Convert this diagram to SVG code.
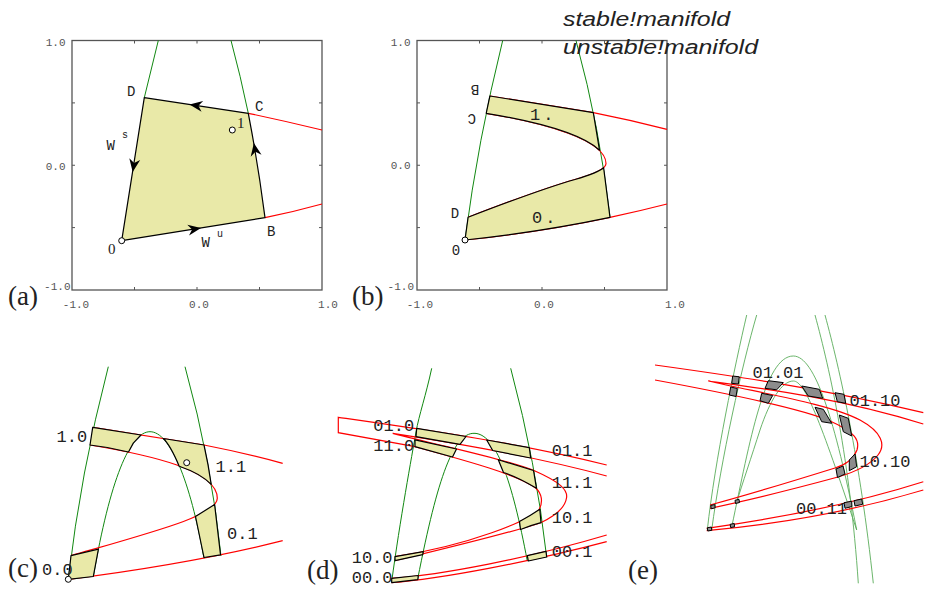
<svg xmlns="http://www.w3.org/2000/svg" xmlns:xlink="http://www.w3.org/1999/xlink" width="930" height="592" viewBox="0 0 930 592">
<style>
.fr{fill:none;stroke:#555;stroke-width:1.3}
.tk{stroke:#555;stroke-width:1;fill:none}
.tl{font-family:"Liberation Mono",monospace;font-size:11px;fill:#555}
.g{fill:none;stroke:#118811;stroke-width:1}
.ge{fill:none;stroke:#5aad5a;stroke-width:0.9}
.r{fill:none;stroke:#f00;stroke-width:1.2}
.y{fill:#e9e9a8;stroke:#000;stroke-width:1.2;stroke-linejoin:round}
.k{fill:none;stroke:#000;stroke-width:1.3}
.sq{fill:#8c8c8c;stroke:#000;stroke-width:1;stroke-linejoin:round}
.pt{fill:#fff;stroke:#000;stroke-width:1}
.lb{font-family:"Liberation Mono",monospace;font-size:14px;fill:#222}
.sup{font-family:"Liberation Mono",monospace;font-size:10px;fill:#222}
.lm{font-family:"Liberation Mono",monospace;font-size:17px;fill:#222}
.pl{font-family:"Liberation Serif",serif;font-size:27px;fill:#222}
.sn{font-family:"Liberation Serif",serif;font-size:15px;fill:#222}
.ti{font-family:"Liberation Sans",sans-serif;font-style:italic;font-size:20px;fill:#222}
</style>
<defs>
<path id="ah" d="M0,0 L-13,-5.5 L-9,0 L-13,5.5 Z" fill="#000"/>
</defs>

<g id="panel-a">
<rect class="fr" x="72" y="40.5" width="250" height="249.5"/>
<path class="tk" d="M72,102.9h3M72,165.25h3M72,227.6h3M322,102.9h-3M322,165.25h-3M322,227.6h-3M134.5,40.5v3M197,40.5v3M259.5,40.5v3M134.5,290v-3M197,290v-3M259.5,290v-3"/>
<text class="tl" x="65.5" y="46.3" text-anchor="end">1.0</text>
<text class="tl" x="65.5" y="169.6" text-anchor="end">0.0</text>
<text class="tl" x="70.5" y="290.3" text-anchor="end">-1.0</text>
<text class="tl" x="76" y="307.5" text-anchor="middle">-1.0</text>
<text class="tl" x="199" y="307.5" text-anchor="middle">0.0</text>
<text class="tl" x="328" y="307.5" text-anchor="middle">1.0</text>
<path class="g" d="M158.3,40.5 L144.3,97.7 M231,40.5 Q240.5,75.7 248.3,113.3"/>
<path class="r" d="M248.3,113.3 Q285,121 322,130 M265,217.7 Q293,212 322,204"/>
<path class="y" d="M121.7,240.7 L265,217.7 Q257.9,163 248.3,113.3 L144.3,97.7 Z"/>
<use xlink:href="#ah" transform="translate(189.5,104.5) rotate(188.5)"/>
<use xlink:href="#ah" transform="translate(132.7,172) rotate(99)"/>
<use xlink:href="#ah" transform="translate(253.9,143) rotate(260.2)"/>
<use xlink:href="#ah" transform="translate(201,228) rotate(-9.1)"/>
<circle class="pt" cx="121.7" cy="240.7" r="3"/>
<circle class="pt" cx="232.3" cy="130" r="3"/>
<text class="lb" x="127" y="96">D</text>
<text class="lb" x="255" y="111">C</text>
<text class="lb" x="267" y="236">B</text>
<text class="lb" x="106.5" y="149.5">W</text>
<text class="sup" x="122" y="138">s</text>
<text class="lb" x="201.5" y="247">W</text>
<text class="sup" x="217" y="237">u</text>
<text class="sn" x="108" y="254">0</text>
<text class="sn" x="237" y="128">1</text>
<text class="pl" x="8" y="305">(a)</text>
</g>

<g id="panel-b">
<rect class="fr" x="417" y="40.5" width="250" height="249.5"/>
<path class="tk" d="M417,102.9h3M417,165.25h3M417,227.6h3M667,102.9h-3M667,165.25h-3M667,227.6h-3M479.5,40.5v3M542,40.5v3M604.5,40.5v3M479.5,290v-3M542,290v-3M604.5,290v-3"/>
<text class="tl" x="410.5" y="45.5" text-anchor="end">1.0</text>
<text class="tl" x="410.5" y="169.3" text-anchor="end">0.0</text>
<text class="tl" x="414" y="289.8" text-anchor="end">-1.0</text>
<text class="tl" x="420" y="307.5" text-anchor="middle">-1.0</text>
<text class="tl" x="544" y="307.5" text-anchor="middle">0.0</text>
<text class="tl" x="675" y="307.5" text-anchor="middle">1.0</text>
<path class="g" d="M502.7,40.5 Q478,140.25 465,240 M576,40.5 Q600,128.65 610,217.3"/>
<path class="r" d="M489.9,96 L593.3,112.7 Q630,120 667,129.3 M465,240 Q540,232 610,217.3 Q640,211 667,204 M486.2,113.3 C545,123 606,140 606,163.5 C606,168 598,173 575,179.5 C545,188 500,205 468.1,217.3"/>
<path class="y" d="M489.9,96 L593.3,112.7 L599.5,150.2 C581.7,133.5 533.2,121.1 486.2,113.3 Z"/>
<path class="y" d="M465,240 L468.1,217.3 C500,205 545,188 575,179.5 C590,175 600,171 603.6,167.7 L610,217.3 Q540,232 465,240 Z"/>
<circle class="pt" cx="465" cy="240" r="3"/>
<text class="lb" text-anchor="middle" transform="translate(475,89.3) rotate(180)" y="4.6">B</text>
<text class="lb" text-anchor="middle" transform="translate(471.7,118.3) rotate(180)" y="4.6">C</text>
<text class="lb" x="455" y="218" text-anchor="middle">D</text>
<text class="lb" x="456" y="254.6" text-anchor="middle">0</text>
<text class="lm" x="530" y="120" letter-spacing="3">1.</text>
<text class="lm" x="532" y="222.7" letter-spacing="3">0.</text>
<text class="pl" x="352" y="305">(b)</text>
</g>

<g id="title">
<text class="ti" x="563" y="26" textLength="167" lengthAdjust="spacingAndGlyphs">stable!manifold</text>
<text class="ti" x="563" y="53.5" textLength="195" lengthAdjust="spacingAndGlyphs">unstable!manifold</text>
</g>

<g id="panel-c">
<path class="g" d="M108.3,366.7 Q80.6,473 68.3,579.3 M185,366.7 Q211.4,461.35 221,556 M93.3,576.7 C110,480 130,431.7 150,431.7 C170,431.7 190,480 204,558.3"/>
<path class="r" d="M92.7,427.3 L204,445 Q245,453 282.7,463.3 M90,445 C150,455 217.3,470 217.3,498.3 C217.3,515 160,530 71,555.7 M68.3,579.3 Q190,564 282.7,540.7"/>
<path class="y" d="M92.7,427.3 L141,435 L133.3,443.1 L128.5,452 Q109,447 90,445 Z"/>
<path class="y" d="M163.2,438.5 L204,445 Q208.5,465 211.2,484.4 Q200.8,473.5 179.2,466.2 Q170.2,444.85 163.2,438.5 Z"/>
<path class="y" d="M195.5,516.5 L214.6,504.5 L220.5,554.8 L204,557.5 Z"/>
<path class="y" d="M71,555.7 L98.4,549.1 L93.3,576.5 Q80,578 68.3,579.3 Z"/>
<circle class="pt" cx="186.7" cy="462.7" r="3"/>
<circle class="pt" cx="68.3" cy="579.3" r="3"/>
<text class="lm" x="56.5" y="441.7">1.0</text>
<text class="lm" x="215.5" y="471.7">1.1</text>
<text class="lm" x="227" y="539.3">0.1</text>
<text class="lm" x="42" y="575">0.0</text>
<text class="pl" x="8" y="577">(c)</text>
</g>

<g id="panel-d">
<path class="g" d="M431.7,368.3 C426,395 419,415 416,432 C412,455 400,520 391.7,581.7 M510.7,368.3 Q536.1,462.8 546.7,557.3 M417.7,579 C438,475 454,433.3 474,433.3 C496,433.3 512,480 527.3,561"/>
<path class="r" d="M606.7,465 C520,443 420,429 338.3,417.3 L338.3,432.7 L415,446.7 C460,459 520,475 536,488.3 C542,494 543,502 539.3,509.3 C528,521 470,545 395,556.7"/>
<path class="r" d="M606.7,476 C530,455 430,439 392.7,433.3 C445,447 510,460 535,471 C560,482 568,490 566.5,498 C565,508 555,516 540.7,522.7 C510,533 460,545 395,560.7"/>
<path class="r" d="M391.7,578.3 C440,575 530,558 606.7,535 M391.7,582.7 C440,579 530,562 606.7,541.7"/>
<path class="y" d="M416.7,428.3 L466,436.5 L460,444.3 L416,436.6 Z"/>
<path class="y" d="M415,439.8 L456.5,449 L452.5,457 L415,446.7 Z"/>
<path class="y" d="M486.7,440 L529.3,447.7 L530.7,458 L492.7,450.5 Z"/>
<path class="y" d="M498.3,459.7 L533.5,470.5 L536.5,488.3 Q518,477 503.5,472.5 Z"/>
<path class="y" d="M539.8,509.3 Q530,516 519.5,521.5 L520.5,529.5 Q532,525 541,522.7 Z"/>
<path class="y" d="M527.3,555.7 L546,551.4 L546.7,557 L528.3,561 Z"/>
<path class="y" d="M395,556.7 L423.3,551.7 L422.7,554.6 L395,560.7 Z"/>
<path class="y" d="M391.7,578.3 L418.3,575.5 L417.8,579.6 L391.7,582.7 Z"/>
<text class="lm" x="373.3" y="430.7">01.0</text>
<text class="lm" x="373.3" y="450.7">11.0</text>
<text class="lm" x="551.7" y="456">01.1</text>
<text class="lm" x="551.7" y="488.3">11.1</text>
<text class="lm" x="551.7" y="522.7">10.1</text>
<text class="lm" x="551.7" y="556.7">00.1</text>
<text class="lm" x="351.7" y="562.5">10.0</text>
<text class="lm" x="351.7" y="583">00.0</text>
<text class="pl" x="307" y="579">(d)</text>
</g>

<g id="panel-e">
<path class="ge" d="M746.7,315 C735,365 715,460 707.3,530 M756.7,315 C742,365 721,460 711.7,530"/>
<path class="ge" d="M731.7,527 C750,440 765,356 793.3,356 C815,356 835,420 856.7,530"/>
<path class="ge" d="M736.7,502 C742,485 752,455 760,430 C770,400 782,381 793.3,381 C805,381 820,420 856.7,530"/>
<path class="ge" d="M815,315 C830,370 850,460 858.3,583.3 M825,315 C840,370 860,460 873.3,583.3"/>
<path class="r" d="M655,365 C720,374 820,388 923.3,412.7"/>
<path class="r" d="M923.3,424 C840,398 760,388 708.3,381 C760,393 830,404 860,420 C882,432 886,445 878,455 C870,465 855,472 838,477 C790,490 740,502 710,508.3"/>
<path class="r" d="M655,380 C720,392 800,408 830,421 C855,432 860,440 857,450 C853,460 845,465 835,468 C790,482 740,497 710,505"/>
<path class="r" d="M706.7,528.3 C780,518 850,505 923.3,481.7 M706.7,530.7 C780,524 850,512 923.3,490"/>
<text class="lm" x="752.5" y="378.3">01.01</text>
<text class="lm" x="849.5" y="406">01.10</text>
<text class="lm" x="859.5" y="467.3">10.10</text>
<text class="lm" x="796" y="514">00.11</text>
<path class="sq" d="M732.7,376 L739.3,376.8 L738.3,384 L731.7,383.3 Z"/>
<path class="sq" d="M730.7,387 L737.3,388.5 L736,396.5 L729.3,395 Z"/>
<path class="sq" d="M768.3,380.7 L783.3,382.6 L776.7,389.8 L765,388.3 Z"/>
<path class="sq" d="M761.7,393.3 L772.7,395.5 L768.3,403.3 L760,400.7 Z"/>
<path class="sq" d="M801.7,386 L819.3,389.3 L822.7,398.3 L808.3,396 Z"/>
<path class="sq" d="M835,392.7 L844,394.3 L845.7,403.3 L837.3,401.7 Z"/>
<path class="sq" d="M815,407.3 L823.3,409.3 L831.7,423.3 L821.7,421.7 Z"/>
<path class="sq" d="M839.3,415 L848.3,418.3 L851.7,436 L843.3,431.7 Z"/>
<path class="sq" d="M836,469 L843,466 L845,474 L837.5,477.5 Z"/>
<path class="sq" d="M849.3,460 L855,454 L856.7,466.7 L849.3,470.7 Z"/>
<path class="sq" d="M844,502.7 L851.7,501.2 L851.9,506.5 L845,508.3 Z"/>
<path class="sq" d="M854,500.7 L861.7,499 L862.7,504.3 L855,506 Z"/>
<path class="sq" d="M710.7,505.5 L714.7,504.5 L715.2,507.8 L711.2,508.8 Z"/>
<path class="sq" d="M735,500.3 L739,499.3 L739.5,502.5 L735.5,503.5 Z"/>
<path class="sq" d="M707.3,527.8 L711.3,527 L711.8,530.3 L707.8,531 Z"/>
<path class="sq" d="M730.2,524.3 L734.2,523.5 L734.6,526.8 L730.6,527.6 Z"/>
<text class="pl" x="628" y="579">(e)</text>
</g>
</svg>
